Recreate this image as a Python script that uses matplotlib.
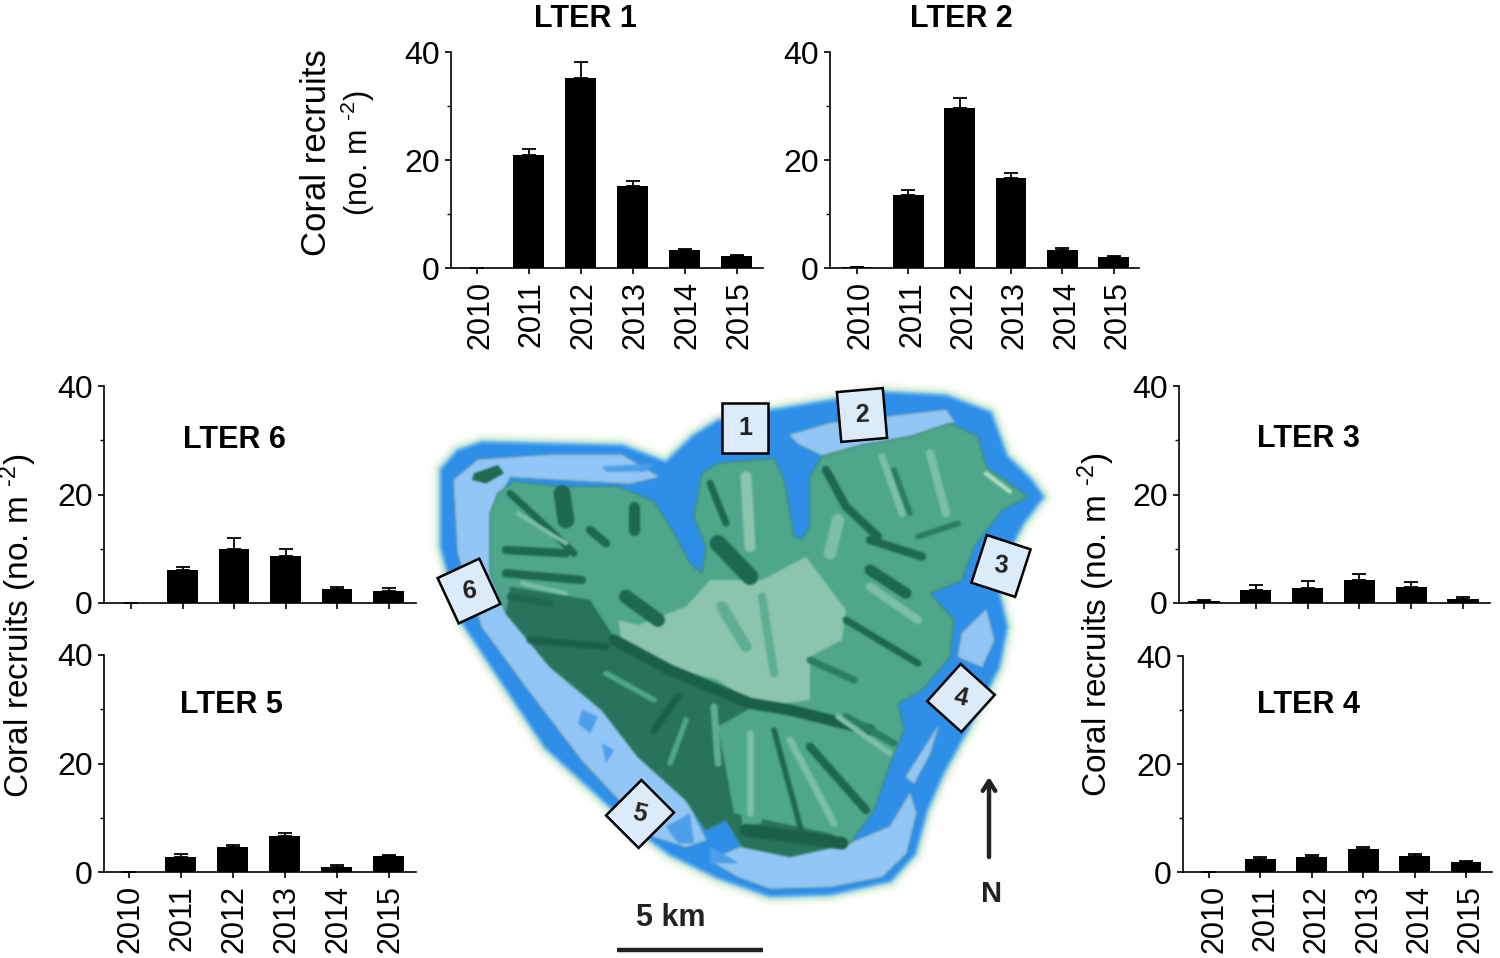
import matplotlib
matplotlib.use("Agg")
import numpy as np
import matplotlib.pyplot as plt
from matplotlib.patches import Polygon, Rectangle
from matplotlib.transforms import ScaledTranslation

plt.rcParams['font.family'] = ['Liberation Sans', 'DejaVu Sans']
plt.rcParams['mathtext.fontset'] = 'custom'
plt.rcParams['mathtext.rm'] = 'Liberation Sans'
plt.rcParams['mathtext.default'] = 'regular'

years = ['2010', '2011', '2012', '2013', '2014', '2015']

lter1 = [0, 20.9, 35.2, 15.2, 3.3, 2.2]
lter1_err = [0, 1.2, 3.0, 1.0, 0.3, 0.2]
lter2 = [0.2, 13.5, 29.6, 16.6, 3.4, 2.0]
lter2_err = [0, 0.9, 1.9, 1.0, 0.3, 0.2]
lter3 = [0.3, 2.4, 2.7, 4.2, 3.0, 0.8]
lter3_err = [0.2, 1.0, 1.3, 1.2, 0.8, 0.3]
lter4 = [0, 2.4, 2.8, 4.3, 2.9, 1.9]
lter4_err = [0, 0.3, 0.4, 0.4, 0.5, 0.2]
lter5 = [0, 2.7, 4.6, 6.6, 1.0, 3.0]
lter5_err = [0, 0.6, 0.3, 0.6, 0.2, 0.2]
lter6 = [0, 6.0, 10.0, 8.6, 2.5, 2.3]
lter6_err = [0, 0.7, 2.0, 1.3, 0.5, 0.5]

W = 1500
H = 958
fig = plt.figure(figsize=(15, 9.58), dpi=100)

# background axes in pixel coordinates, map and free text go here
bg = fig.add_axes([0, 0, 1, 1])
bg.axis('off')


def panel(left, right, top, bottom, tick0, step, values, errs, labels=True, label_dx=0):
    ax = fig.add_axes([left / W, 1 - bottom / H, (right - left) / W, (bottom - top) / H])
    ax.patch.set_alpha(0)
    ax.set_xlim((left - tick0) / step, (right - tick0) / step)
    ax.set_ylim(0, 40)
    ax.bar(range(6), values, width=0.6, color='black')
    ax.errorbar(range(6), values, yerr=[[0] * 6, errs], fmt='none', ecolor='black',
                elinewidth=1.3, capsize=5, capthick=1.3)
    ax.spines['top'].set_visible(False)
    ax.spines['right'].set_visible(False)
    ax.spines['left'].set_linewidth(1.2)
    ax.spines['bottom'].set_linewidth(1.2)
    ax.set_yticks([0, 20, 40])
    ax.set_yticks([10, 30], minor=True)
    ax.set_xticks(range(6))
    ax.set_xticklabels(years if labels else [], rotation=90, fontsize=22)
    ax.tick_params(axis='y', which='major', labelsize=23, length=4, width=1.2, pad=4)
    ax.tick_params(axis='y', which='minor', length=3, width=1)
    ax.tick_params(axis='x', length=4, width=1.2, pad=5.5)
    if labels:
        # year labels sit a little right of their ticks in the original
        for t in ax.get_xticklabels():
            t.set_transform(t.get_transform() + ScaledTranslation(label_dx / 100, 0, fig.dpi_scale_trans))
    return ax


panel(451, 763, 52, 268, 477, 51.9, lter1, lter1_err, label_dx=3)
panel(830, 1139, 52, 268, 857, 51.3, lter2, lter2_err, label_dx=4)
panel(104, 416, 386, 603, 131, 51.5, lter6, lter6_err, labels=False)
panel(104, 416, 655, 872, 129, 51.9, lter5, lter5_err, label_dx=2)
panel(1179, 1490, 386, 603, 1204, 51.8, lter3, lter3_err, labels=False)
panel(1183, 1492, 656, 872, 1209, 51.4, lter4, lter4_err, label_dx=5)

bg.text(585, 19, 'LTER 1', fontsize=22, fontweight='bold', ha='center', va='center')
bg.text(961, 19, 'LTER 2', fontsize=22, fontweight='bold', ha='center', va='center')
bg.text(234, 440, 'LTER 6', fontsize=22, fontweight='bold', ha='center', va='center')
bg.text(231, 705, 'LTER 5', fontsize=22, fontweight='bold', ha='center', va='center')
bg.text(1308, 439, 'LTER 3', fontsize=22, fontweight='bold', ha='center', va='center')
bg.text(1308, 705, 'LTER 4', fontsize=22, fontweight='bold', ha='center', va='center')

ylab = r'Coral recruits (no. m $^{\text{-2}}$)'
bg.text(317, 153, 'Coral recruits', fontsize=25, rotation=90, ha='center', va='center')
bg.text(358, 153, r'(no. m $^{\text{-2}}$)', fontsize=22, rotation=90, ha='center', va='center')
bg.text(18, 626, ylab, fontsize=24, rotation=90, ha='center', va='center')
bg.text(1096, 625, ylab, fontsize=24, rotation=90, ha='center', va='center')


# map outline was traced on a zoomed crop, so convert back to picture pixels
def zm(pts):
    return [(430 + x / 2.5, 380 + y / 3.0) for x, y in pts]


reef = [(30, 270), (70, 215), (130, 190), (300, 195), (480, 200), (590, 250), (660, 170), (720, 125),
        (850, 95), (1000, 65), (1130, 40), (1290, 50), (1400, 100), (1440, 230), (1500, 300), (1530, 350),
        (1480, 430), (1440, 520), (1420, 640), (1440, 740), (1420, 860), (1340, 1050), (1280, 1180),
        (1240, 1290), (1210, 1420), (1150, 1500), (1000, 1540), (850, 1545), (720, 1490), (600, 1420),
        (500, 1330), (400, 1220), (290, 1100), (190, 920), (80, 720), (30, 500)]
lagoon_w = [(60, 300), (120, 240), (300, 225), (480, 225), (570, 290), (500, 310), (200, 290), (150, 400),
            (150, 580), (190, 700), (300, 860), (430, 990), (520, 1130), (640, 1260), (690, 1380), (640, 1400),
            (560, 1370), (450, 1230), (380, 1140), (240, 920), (130, 740), (70, 520)]
lagoon_n = [(900, 165), (1000, 130), (1290, 90), (1310, 125), (1200, 170), (1080, 195), (980, 225), (920, 190)]
lagoon_s = [(700, 1440), (780, 1400), (900, 1430), (1050, 1390), (1150, 1340), (1200, 1240), (1215, 1300),
            (1190, 1420), (1130, 1490), (1000, 1520), (850, 1525), (770, 1490)]
lagoon_e1 = [(1190, 1190), (1270, 1040), (1250, 1120), (1210, 1210)]
lagoon_e2 = [(1330, 760), (1390, 690), (1410, 780), (1380, 860), (1320, 830)]
deep_patches = [[(380, 990), (420, 1010), (400, 1060), (370, 1030)], [(430, 1090), (460, 1110), (440, 1150)],
                [(590, 1340), (650, 1300), (660, 1390), (620, 1390)], [(430, 260), (560, 250), (540, 275), (440, 275)],
                [(700, 1400), (760, 1440), (770, 1450), (700, 1450)]]
islet = [(110, 280), (170, 255), (185, 280), (140, 310), (105, 300)]
island = [(210, 305), (330, 320), (470, 320), (560, 365), (610, 460), (650, 550), (680, 580), (690, 500),
          (660, 410), (680, 280), (720, 250), (860, 235), (885, 300), (910, 470), (930, 480), (950, 440),
          (950, 290), (980, 230), (1080, 195), (1200, 170), (1300, 130), (1370, 170), (1390, 260), (1495, 350),
          (1430, 390), (1360, 500), (1330, 600), (1250, 640), (1310, 720), (1300, 830), (1230, 930), (1170, 970),
          (1185, 1050), (1150, 1150), (1110, 1290), (1050, 1390), (900, 1430), (780, 1400), (740, 1320),
          (690, 1350), (640, 1260), (520, 1130), (430, 990), (300, 860), (190, 700), (150, 580), (150, 400),
          (170, 340)]
south_shade = [(190, 700), (300, 860), (430, 990), (520, 1130), (640, 1260), (690, 1350), (740, 1320), (780, 1400),
               (900, 1430), (1050, 1390), (1000, 1360), (880, 1330), (760, 1300), (720, 1040), (800, 985), (700, 930),
               (560, 850), (460, 770), (400, 660), (300, 640), (200, 620)]
plateau = [(470, 720), (520, 735), (640, 680), (700, 600), (830, 600), (940, 530), (1040, 690), (1030, 780),
           (950, 830), (950, 960), (820, 980), (720, 900), (560, 850), (480, 790)]
fan1 = [(770, 1020), (830, 1020), (830, 1330), (780, 1340)]
fan2 = [(880, 1040), (950, 1060), (1060, 1340), (980, 1340)]

# (points, width, colour)
ridges = [
    ([(200, 340), (300, 450), (360, 520)], 5, '#1d6850'), ([(330, 340), (340, 420)], 12, '#1d6850'),
    ([(510, 380), (510, 450)], 8, '#1d6850'), ([(190, 510), (340, 520)], 6, '#1d6850'),
    ([(190, 580), (380, 600)], 6, '#1d6850'), ([(200, 650), (300, 670)], 5, '#1d6850'),
    ([(400, 450), (440, 490)], 6, '#1d6850'), ([(490, 650), (570, 720)], 10, '#1d6850'),
    ([(700, 310), (740, 430)], 5, '#1d6850'), ([(720, 490), (800, 590)], 12, '#1d6850'),
    ([(990, 270), (1040, 380), (1120, 470)], 6, '#1d6850'), ([(1100, 480), (1230, 530)], 6, '#1d6850'),
    ([(1100, 570), (1190, 640)], 8, '#1d6850'), ([(1040, 720), (1220, 850)], 5, '#1d6850'),
    ([(1220, 470), (1320, 430)], 4, '#2a7c62'), ([(1160, 270), (1200, 400)], 4, '#2a7c62'),
    ([(460, 780), (600, 870), (800, 970), (900, 990), (1100, 1050)], 8, '#1a6049'),
    ([(250, 780), (440, 800)], 5, '#1a6049'), ([(950, 840), (1060, 900)], 5, '#2a7c62'),
    ([(950, 1100), (1090, 1290)], 6, '#1d6850'), ([(860, 1050), (930, 1360)], 4, '#1d6850'),
    ([(620, 950), (560, 1050)], 5, '#1a6049'), ([(1040, 1010), (1160, 1090)], 5, '#2a7c62'),
    ([(790, 1350), (1030, 1390)], 9, '#1a6049'),
    ([(1130, 230), (1180, 400)], 5, '#7cc0a6'), ([(1250, 220), (1290, 400)], 6, '#7cc0a6'),
    ([(1020, 420), (1000, 520)], 9, '#7cc0a6'), ([(790, 290), (800, 500)], 8, '#8cc5ae'),
    ([(1100, 620), (1220, 720)], 6, '#7cc0a6'), ([(1020, 1010), (1150, 1120)], 4, '#7cc0a6'),
    ([(800, 1060), (800, 1300)], 5, '#7cc0a6'), ([(900, 1080), (1010, 1330)], 5, '#7cc0a6'),
    ([(710, 980), (720, 1150)], 5, '#5fae93'), ([(230, 610), (340, 640)], 3, '#7cc0a6'),
    ([(220, 400), (340, 490)], 3, '#7cc0a6'), ([(1390, 280), (1450, 335)], 3, '#b5dccb'),
    ([(560, 960), (440, 880)], 4, '#4fa78b'), ([(600, 1150), (640, 1020)], 4, '#4fa78b'),
    ([(830, 650), (860, 880)], 6, '#5fae93'), ([(730, 680), (790, 800)], 8, '#5fae93'),
]

# map is drawn on its own small canvas and softened, the source is a blurry raster
mx0, mx1, my0, my1 = 430, 1060, 380, 905
mfig = plt.figure(figsize=((mx1 - mx0) / 100, (my1 - my0) / 100), dpi=100)
mp = mfig.add_axes([0, 0, 1, 1])
mp.set_xlim(mx0, mx1)
mp.set_ylim(my1, my0)
mp.axis('off')
for lw, col in [(15, '#f2f9ee'), (9, '#cbe8dc'), (4, '#63b3ec')]:
    mp.add_patch(Polygon(zm(reef), closed=True, fill=False, edgecolor=col, linewidth=lw, joinstyle='round'))
mp.add_patch(Polygon(zm(reef), closed=True, facecolor='#2f8fe8', edgecolor='none'))
for poly in [lagoon_w, lagoon_n, lagoon_s, lagoon_e1, lagoon_e2]:
    mp.add_patch(Polygon(zm(poly), closed=True, facecolor='#92c6f6', edgecolor='#9fb8b0', linewidth=0.8))
for poly in deep_patches:
    mp.add_patch(Polygon(zm(poly), closed=True, facecolor='#4d9fea', edgecolor='none'))
mp.add_patch(Polygon(zm(islet), closed=True, facecolor='#1f6a50', edgecolor='none'))
mp.add_patch(Polygon(zm(island), closed=True, facecolor='#4fa78b', edgecolor='#3c8f76', linewidth=1))
mp.add_patch(Polygon(zm(south_shade), closed=True, facecolor='#27735b', edgecolor='none'))
mp.add_patch(Polygon(zm(plateau), closed=True, facecolor='#8cc5ae', edgecolor='none'))
mp.add_patch(Polygon(zm(fan1), closed=True, facecolor='#4fa78b', edgecolor='none'))
mp.add_patch(Polygon(zm(fan2), closed=True, facecolor='#4fa78b', edgecolor='none'))
for pts, lw, col in ridges:
    xy = zm(pts)
    mp.plot([p[0] for p in xy], [p[1] for p in xy], color=col, linewidth=lw, solid_capstyle='round')
mfig.canvas.draw()
img = np.asarray(mfig.canvas.buffer_rgba())[:, :, :3] / 255.0
plt.close(mfig)

kernel = [1, 4, 6, 4, 1]
for axis in [0, 1]:
    img = sum(k * np.roll(img, i - 2, axis=axis) for i, k in enumerate(kernel)) / 16.0

bg.imshow(img, extent=(mx0, mx1, my1, my0), aspect='auto', interpolation='nearest', zorder=1)
bg.set_xlim(0, W)
bg.set_ylim(H, 0)

# numbered site boxes: x, y, angle, label
sites = [(745, 428, 0, '1'), (862, 415, -5, '2'), (1001, 566, 18, '3'),
         (961, 698, 42, '4'), (640, 814, 45, '5'), (469, 591, -25, '6')]
for x, y, ang, lab in sites:
    bg.add_patch(Rectangle((x - 23, y - 25), 46, 50, angle=ang, rotation_point='center',
                           facecolor='#dcebf8', edgecolor='black', linewidth=1.8, zorder=4))
    bg.text(x, y, lab, fontsize=18, fontweight='bold', ha='center', va='center',
            rotation=-ang * 0.3, color='#222222', zorder=5)

# north arrow and scale bar
bg.annotate('', xy=(989, 777), xytext=(989, 857),
            arrowprops=dict(arrowstyle='->,head_width=0.45,head_length=0.7', color='#222222', lw=3.2,
                            shrinkA=0, shrinkB=0))
bg.text(992, 894, 'N', fontsize=21, fontweight='bold', ha='center', va='center', color='#222222')
bg.text(671, 918, '5 km', fontsize=22, fontweight='bold', ha='center', va='center', color='#222222')
bg.plot([617, 763], [950, 950], color='#222222', linewidth=3.2, solid_capstyle='butt')

fig.savefig('out.png', dpi=100)
